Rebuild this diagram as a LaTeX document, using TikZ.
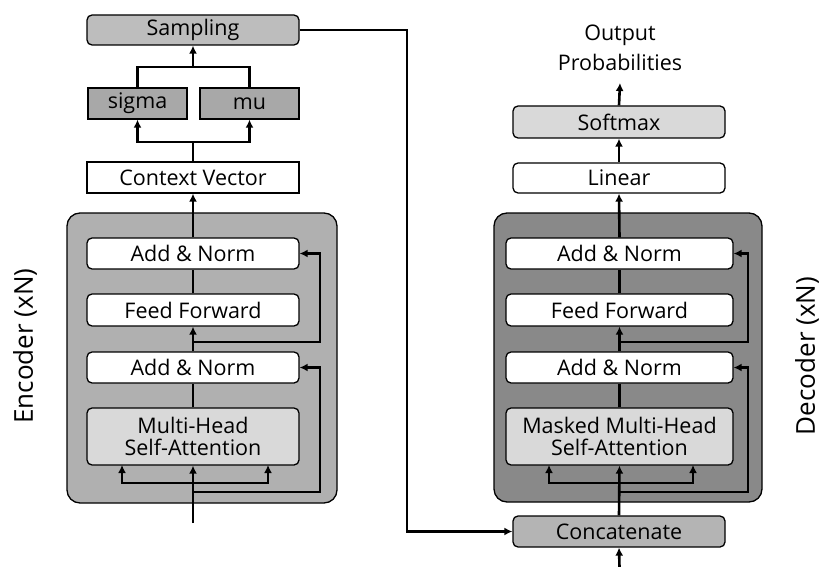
\documentclass[tikz,border=0pt]{standalone}
\usepackage{fontspec}
\setmainfont{Open Sans}
\usetikzlibrary{arrows.meta}
\definecolor{sampgray}{HTML}{BDBDBD}
\definecolor{smgray}{HTML}{A8A8A8}
\definecolor{encgray}{HTML}{B0B0B0}
\definecolor{decgray}{HTML}{898989}
\definecolor{lightg}{HTML}{D9D9D9}
\definecolor{concgray}{HTML}{B4B4B4}
\tikzset{
  box/.style={draw=black, line width=1.3pt, minimum height=31pt, inner sep=0pt,
    font=\fontsize{21.5}{24}\selectfont},
  rbox/.style={box, rounded corners=5pt},
  block/.style={draw=black, line width=1.3pt, rounded corners=13pt},
  conn/.style={line width=2.6pt, -{Latex[length=8pt,width=8pt]}},
  plain/.style={line width=2.6pt},
  side/.style={font=\fontsize{26}{28}\selectfont, rotate=90}
}
\begin{document}
\begin{tikzpicture}[x=1pt,y=-1pt]
\useasboundingbox (0,0) rectangle (822,567);
% blocks
\draw[block, fill=encgray] (67,213) rectangle (337,503);
\draw[block, fill=decgray] (494,213) rectangle (762,502);
% left column
\node[rbox, fill=sampgray, minimum width=212pt, minimum height=30pt] (samp) at (193,30) {Sampling};
\node[box, fill=smgray, minimum width=99pt] (sigma) at (137.5,103.5) {sigma};
\node[box, fill=smgray, minimum width=99pt] (mu) at (249.5,103.5) {mu};
\node[box, fill=white, minimum width=212pt] (ctx) at (193,177.5) {Context Vector};
\node[rbox, fill=white, minimum width=212pt] (ean2) at (193,253.5) {Add \& Norm};
\node[rbox, fill=white, minimum width=212pt, minimum height=32pt] (eff) at (193,310) {Feed Forward};
\node[rbox, fill=white, minimum width=212pt] (ean1) at (193,367.5) {Add \& Norm};
\node[rbox, fill=lightg, minimum width=212pt, minimum height=57pt, align=center,
  font=\fontsize{21.5}{22.5}\selectfont] (emha) at (193,436.5) {Multi-Head\\Self-Attention};
% right column
\node[align=center, font=\fontsize{21.5}{30}\selectfont] (out) at (620,48) {Output\\Probabilities};
\node[rbox, fill=lightg, minimum width=212pt, minimum height=32pt] (soft) at (619,122) {Softmax};
\node[rbox, fill=white, minimum width=212pt, minimum height=30pt] (lin) at (619,178) {Linear};
\node[rbox, fill=white, minimum width=227pt] (dan2) at (619.5,253.5) {Add \& Norm};
\node[rbox, fill=white, minimum width=227pt, minimum height=32pt] (dff) at (619.5,310) {Feed Forward};
\node[rbox, fill=white, minimum width=227pt] (dan1) at (619.5,367.5) {Add \& Norm};
\node[rbox, fill=lightg, minimum width=227pt, minimum height=57pt, align=center,
  font=\fontsize{21.5}{22.5}\selectfont] (dmha) at (619.5,436.5) {Masked Multi-Head\\Self-Attention};
\node[rbox, fill=concgray, minimum width=212pt] (conc) at (619,531.5) {Concatenate};
% side labels
\node[side] (enclab) at (25,346) {Encoder (xN)};
\node[side] (declab) at (807,356) {Decoder (xN)};
% coordinates
\coordinate (ein) at (193,523);
\coordinate (din) at (619.5,567);
\coordinate (sjoin) at (193,67);
\coordinate (cjoin) at (193,142);
% encoder connectors
\draw[plain] (sigma.north) |- (sjoin) -| (mu.north);
\draw[conn] (sjoin) -- (samp.south);
\draw[plain] (ctx.north) -- (cjoin);
\draw[conn] (cjoin) -| (sigma.south);
\draw[conn] (cjoin) -| (mu.south);
\draw[conn] (ean2.north) -- (ctx.south);
\draw[plain] (eff.north) -- (ean2.south);
\draw[conn] (ean1.north) -- (eff.south);
\draw[plain] (emha.north) -- (ean1.south);
\draw[conn] (ein) -- (emha.south);
\draw[conn] (193,483) -| (122,465);
\draw[conn] (193,483) -| (268,465);
\draw[conn] (193,492) -| (320,367.5) -- (ean1.east);
\draw[conn] (193,342) -| (320,253.5) -- (ean2.east);
% decoder connectors
\draw[conn] (soft.north) -- (620,83);
\draw[conn] (lin.north) -- (soft.south);
\draw[conn] (dan2.north) -- (lin.south);
\draw[plain] (dff.north) -- (dan2.south);
\draw[conn] (dan1.north) -- (dff.south);
\draw[plain] (dmha.north) -- (dan1.south);
\draw[conn] (conc.north) -- (dmha.south);
\draw[conn] (619.5,483) -| (549,465);
\draw[conn] (619.5,483) -| (693,465);
\draw[conn] (619.5,492) -| (748,367.5) -- (dan1.east);
\draw[conn] (619.5,342) -| (748,253.5) -- (dan2.east);
\draw[conn] (din) -- (conc.south);
% sampling to concatenate
\draw[conn] (samp.east) -- (407,30) -- (407,531.5) -- (conc.west);
\end{tikzpicture}
\end{document}
